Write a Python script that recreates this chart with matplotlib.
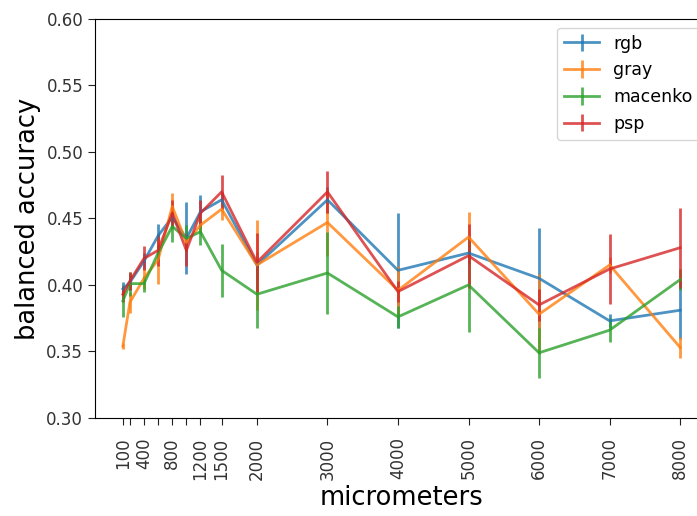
import numpy as np
import matplotlib.pyplot as plt

micrometers = [100, 200, 400, 600, 800, 1000, 1200, 1500, 2000, 3000, 4000, 5000, 6000, 7000, 8000]
tick_labels = ["100", "", "400", "", "800", "", "1200", "1500", "2000",
               "3000", "4000", "5000", "6000", "7000", "8000"]

rgb = [0.397, 0.402, 0.418, 0.437, 0.451, 0.435, 0.455, 0.464, 0.415, 0.464, 0.411, 0.424, 0.405, 0.373, 0.381]
rgb_err = [0.005, 0.006, 0.006, 0.009, 0.008, 0.027, 0.013, 0.006, 0.010, 0.010, 0.043, 0.008, 0.038, 0.005, 0.022]

gray = [0.354, 0.387, 0.405, 0.419, 0.459, 0.432, 0.445, 0.457, 0.415, 0.447, 0.396, 0.436, 0.378, 0.415, 0.353]
gray_err = [0.002, 0.008, 0.008, 0.018, 0.010, 0.006, 0.006, 0.008, 0.034, 0.025, 0.018, 0.019, 0.030, 0.006, 0.008]

macenko = [0.388, 0.401, 0.401, 0.424, 0.444, 0.435, 0.440, 0.411, 0.393, 0.409, 0.376, 0.400, 0.349, 0.366, 0.404]
macenko_err = [0.012, 0.009, 0.006, 0.006, 0.012, 0.010, 0.010, 0.020, 0.025, 0.031, 0.008, 0.035, 0.019, 0.009, 0.008]

psp = [0.393, 0.403, 0.420, 0.426, 0.454, 0.426, 0.454, 0.470, 0.417, 0.470, 0.395, 0.422, 0.385, 0.412, 0.428]
psp_err = [0.006, 0.007, 0.009, 0.012, 0.010, 0.012, 0.010, 0.013, 0.022, 0.016, 0.008, 0.024, 0.012, 0.026, 0.030]


def plot_accuracy():
    fig = plt.figure(figsize=(6.97, 5.16), dpi=100)
    ax = fig.add_axes([0.1363, 0.19, 0.8795, 0.7733])
    ax.errorbar(micrometers, rgb, yerr=rgb_err, label="rgb", alpha=0.8, lw=2)
    ax.errorbar(micrometers, gray, yerr=gray_err, label="gray", alpha=0.8, lw=2)
    ax.errorbar(micrometers, macenko, yerr=macenko_err, label="macenko", alpha=0.8, lw=2)
    ax.errorbar(micrometers, psp, yerr=psp_err, label="psp", alpha=0.8, lw=2)
    ax.set_ylim(0.30, 0.60)
    ax.set_xticks(micrometers)
    ax.set_xticklabels(tick_labels, rotation=90)
    ax.tick_params(labelsize=12, length=5, colors="#222222", labelcolor="#333333")
    ax.tick_params(axis="x", pad=9)
    ax.set_xlabel("micrometers", fontsize=18.5)
    ax.set_ylabel("balanced accuracy", fontsize=18.5)
    ax.legend(loc="upper right", fontsize=12.5)
    fig.savefig("out.png", dpi=100)


def main():
    plot_accuracy()


if __name__ == "__main__":
    main()
